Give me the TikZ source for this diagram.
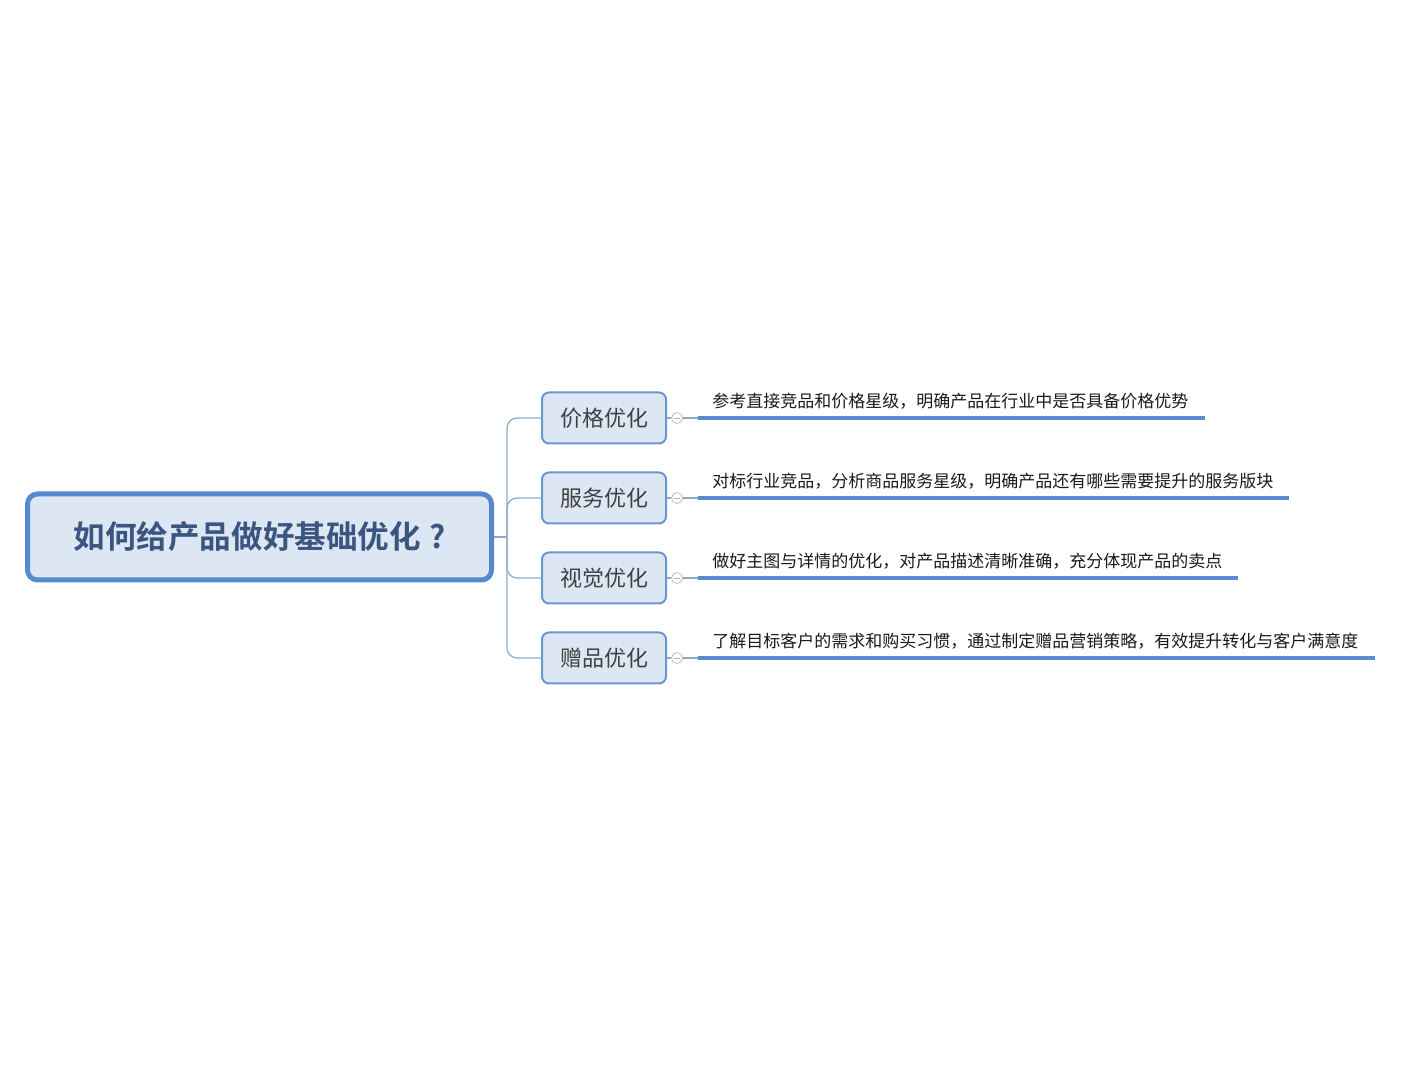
\documentclass[tikz,border=0pt]{standalone}
\usepackage{fontspec}
\setmainfont{Noto Sans CJK SC}
\newfontfamily\cjkbold{Noto Sans CJK SC Bold}
\usetikzlibrary{positioning,calc}

\definecolor{rootline}{RGB}{86,138,206}
\definecolor{boxfill}{RGB}{221,230,243}
\definecolor{roottext}{RGB}{58,86,128}
\definecolor{topicline}{RGB}{108,150,206}
\definecolor{topictext}{RGB}{64,64,64}
\definecolor{connline}{RGB}{143,170,201}
\definecolor{underline}{RGB}{91,139,208}

\tikzset{
	root/.style={draw=rootline, line width=2.5pt, fill=boxfill, rounded corners=5pt,
		minimum width=232pt, minimum height=43pt, text=roottext,
		font=\cjkbold\fontsize{15.8}{19}\selectfont},
	topic/.style={draw=topicline, line width=1pt, fill=boxfill, rounded corners=3.5pt,
		minimum width=62pt, minimum height=25.5pt, text=topictext,
		font=\fontsize{11}{13}\selectfont},
	leaf/.style={inner sep=0pt, anchor=base west, text=black!90,
		font=\fontsize{8.5}{10}\selectfont},
	fold/.style={circle, draw=black!25, line width=0.4pt, minimum size=5.5pt, inner sep=0pt,
		path picture={\draw[black!30, line width=0.4pt]
			([xshift=-1.5pt]path picture bounding box.center) --
			([xshift=1.5pt]path picture bounding box.center);}},
	conn/.style={draw=connline, line width=0.6pt},
	uline/.style={draw=underline, line width=2pt}
}

\begin{document}
\begin{tikzpicture}[x=0.5pt, y=-0.5pt]
	\useasboundingbox (0,0) rectangle (1424,1068);

	\node[root] (q) at (259.5,537) {如何给产品做好基础优化\hspace{4pt}?};
	\coordinate (j) at (507,537);
	\draw[conn] (q.east) -- (j);

	\foreach \n/\y/\topic/\xe/\detail in {
		1/418/价格优化/1205/参考直接竞品和价格星级，明确产品在行业中是否具备价格优势,
		2/498/服务优化/1289/对标行业竞品，分析商品服务星级，明确产品还有哪些需要提升的服务版块,
		3/578/视觉优化/1238/做好主图与详情的优化，对产品描述清晰准确，充分体现产品的卖点,
		4/658/赠品优化/1375/了解目标客户的需求和购买习惯，通过制定赠品营销策略，有效提升转化与客户满意度}
	{
		\node[topic] (t\n) at (604,\y) {\topic};
		\draw[conn, rounded corners=5pt] (j) |- (t\n.west);
		\node[fold] (m\n) at (677,\y) {};
		\coordinate (s\n) at (698,\y);
		\coordinate (e\n) at (\xe,\y);
		\draw[conn] (t\n.east) -- (m\n.west);
		\draw[conn] (m\n.east) -- (s\n);
		\draw[uline] (s\n) -- (e\n);
		\node[leaf] (d\n) at (712,\y-10) {\detail};
	}
\end{tikzpicture}
\end{document}
